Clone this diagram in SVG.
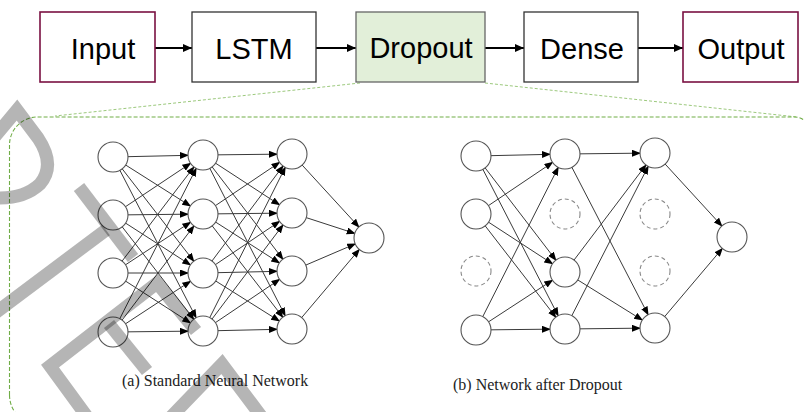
<svg xmlns="http://www.w3.org/2000/svg" width="804" height="412" viewBox="0 0 804 412">
<defs>
<marker id="ah" markerWidth="30" markerHeight="8" refX="23" refY="3.5" orient="auto" markerUnits="userSpaceOnUse">
<path d="M0,0 L9,3.5 L0,7 z" fill="#000"/>
</marker>
<marker id="tah" markerWidth="10" markerHeight="10" refX="9" refY="4" orient="auto" markerUnits="userSpaceOnUse">
<path d="M0,0 L9,4 L0,8 z" fill="#000"/>
</marker>
<style>
.box{stroke-width:1.3}
.io{fill:#fff;stroke:#7a1142;stroke-width:1.6}
.pl{fill:#fff;stroke:#333}
.dr{fill:#e2efd9;stroke:#666}
.lbl{font-family:"Liberation Sans",Arial,sans-serif;font-size:29px;fill:#000;text-anchor:middle}
.ta{stroke:#000;stroke-width:1.8;marker-end:url(#tah)}
.c line{stroke:#3a3a3a;stroke-width:1;marker-end:url(#ah)}
.n{fill:#fff;stroke:#555;stroke-width:1.1}
.nd{fill:#fff;stroke:#888;stroke-width:1.1;stroke-dasharray:4 3}
.cap{font-family:"Liberation Serif","Times New Roman",serif;font-size:16px;fill:#222}
</style>
</defs>
<rect width="804" height="412" fill="#fff"/>

<!-- zoom frame -->
<g id="zoom-frame" fill="none">
<path d="M360,83 L55,116" stroke="#9cc97d" stroke-width="1" stroke-dasharray="3 2"/>
<path d="M485,83 L797,117" stroke="#9cc97d" stroke-width="1" stroke-dasharray="3 2"/>
<path d="M9.5,395 V145 A28,28 0 0 1 37.5,117 H795 A14,14 0 0 1 809,131 V430 M9.5,395 A30,30 0 0 0 39.5,425" stroke="#70ad47" stroke-width="1.1" stroke-dasharray="4 2"/>
</g>

<!-- top pipeline connectors -->
<g id="pipeline-connectors">
<line class="ta" x1="155" y1="48" x2="192" y2="48"/>
<line class="ta" x1="316" y1="48" x2="356" y2="48"/>
<line class="ta" x1="485" y1="48" x2="524" y2="48"/>
<line class="ta" x1="638" y1="48" x2="683" y2="48"/>
</g>

<g id="input"><rect class="io" x="40" y="12" width="115" height="70"/><text class="lbl" x="103" y="59">Input</text></g>
<g id="lstm"><rect class="pl box" x="192" y="12" width="124" height="70"/><text class="lbl" x="254" y="59">LSTM</text></g>
<g id="dropout"><rect class="dr box" x="356" y="12" width="129" height="70"/><text class="lbl" x="421" y="58">Dropout</text></g>
<g id="dense"><rect class="pl box" x="524" y="12" width="114" height="70"/><text class="lbl" x="582" y="59">Dense</text></g>
<g id="output"><rect class="io" x="683" y="12" width="115" height="70"/><text class="lbl" x="741" y="59">Output</text></g>

<!-- standard network connectors -->
<g id="std-connectors" class="c">
<line x1="113" y1="157" x2="203" y2="155"/><line x1="113" y1="157" x2="203" y2="214"/><line x1="113" y1="157" x2="203" y2="273"/><line x1="113" y1="157" x2="203" y2="331"/>
<line x1="113" y1="215" x2="203" y2="155"/><line x1="113" y1="215" x2="203" y2="214"/><line x1="113" y1="215" x2="203" y2="273"/><line x1="113" y1="215" x2="203" y2="331"/>
<line x1="113" y1="273" x2="203" y2="155"/><line x1="113" y1="273" x2="203" y2="214"/><line x1="113" y1="273" x2="203" y2="273"/><line x1="113" y1="273" x2="203" y2="331"/>
<line x1="113" y1="332" x2="203" y2="155"/><line x1="113" y1="332" x2="203" y2="214"/><line x1="113" y1="332" x2="203" y2="273"/><line x1="113" y1="332" x2="203" y2="331"/>
<line x1="203" y1="155" x2="292" y2="154"/><line x1="203" y1="155" x2="292" y2="213"/><line x1="203" y1="155" x2="292" y2="271"/><line x1="203" y1="155" x2="292" y2="329"/>
<line x1="203" y1="214" x2="292" y2="154"/><line x1="203" y1="214" x2="292" y2="213"/><line x1="203" y1="214" x2="292" y2="271"/><line x1="203" y1="214" x2="292" y2="329"/>
<line x1="203" y1="273" x2="292" y2="154"/><line x1="203" y1="273" x2="292" y2="213"/><line x1="203" y1="273" x2="292" y2="271"/><line x1="203" y1="273" x2="292" y2="329"/>
<line x1="203" y1="331" x2="292" y2="154"/><line x1="203" y1="331" x2="292" y2="213"/><line x1="203" y1="331" x2="292" y2="271"/><line x1="203" y1="331" x2="292" y2="329"/>
<line x1="292" y1="154" x2="369" y2="238"/><line x1="292" y1="213" x2="369" y2="238"/><line x1="292" y1="271" x2="369" y2="238"/><line x1="292" y1="329" x2="369" y2="238"/>
</g>

<!-- dropout network connectors -->
<g id="drop-connectors" class="c">
<line x1="476" y1="156" x2="565" y2="154"/><line x1="476" y1="156" x2="565" y2="272"/><line x1="476" y1="156" x2="565" y2="329"/>
<line x1="476" y1="214" x2="565" y2="154"/><line x1="476" y1="214" x2="565" y2="272"/><line x1="476" y1="214" x2="565" y2="329"/>
<line x1="476" y1="330" x2="565" y2="154"/><line x1="476" y1="330" x2="565" y2="272"/><line x1="476" y1="330" x2="565" y2="329"/>
<line x1="565" y1="154" x2="655" y2="153"/><line x1="565" y1="154" x2="655" y2="328"/>
<line x1="565" y1="272" x2="655" y2="153"/><line x1="565" y1="272" x2="655" y2="328"/>
<line x1="565" y1="329" x2="655" y2="153"/><line x1="565" y1="329" x2="655" y2="328"/>
<line x1="655" y1="153" x2="732" y2="237"/><line x1="655" y1="328" x2="732" y2="237"/>
</g>

<!-- standard network nodes -->
<g id="std-nodes">
<g id="a1"><circle class="n" cx="113" cy="157" r="15"/></g>
<g id="a2"><circle class="n" cx="113" cy="215" r="15"/></g>
<g id="a3"><circle class="n" cx="113" cy="273" r="15"/></g>
<g id="a4"><circle class="n" cx="113" cy="332" r="15"/></g>
<g id="b1"><circle class="n" cx="203" cy="155" r="15"/></g>
<g id="b2"><circle class="n" cx="203" cy="214" r="15"/></g>
<g id="b3"><circle class="n" cx="203" cy="273" r="15"/></g>
<g id="b4"><circle class="n" cx="203" cy="331" r="15"/></g>
<g id="c1"><circle class="n" cx="292" cy="154" r="15"/></g>
<g id="c2"><circle class="n" cx="292" cy="213" r="15"/></g>
<g id="c3"><circle class="n" cx="292" cy="271" r="15"/></g>
<g id="c4"><circle class="n" cx="292" cy="329" r="15"/></g>
<g id="o1"><circle class="n" cx="369" cy="238" r="15"/></g>
</g>

<!-- dropout network nodes -->
<g id="drop-nodes">
<g id="d1"><circle class="n" cx="476" cy="156" r="15"/></g>
<g id="d2"><circle class="n" cx="476" cy="214" r="15"/></g>
<g id="d3"><circle class="nd" cx="476" cy="271" r="15"/></g>
<g id="d4"><circle class="n" cx="476" cy="330" r="15"/></g>
<g id="e1"><circle class="n" cx="565" cy="154" r="15"/></g>
<g id="e2"><circle class="nd" cx="565" cy="214" r="15"/></g>
<g id="e3"><circle class="n" cx="565" cy="272" r="15"/></g>
<g id="e4"><circle class="n" cx="565" cy="329" r="15"/></g>
<g id="f1"><circle class="n" cx="655" cy="153" r="15"/></g>
<g id="f2"><circle class="nd" cx="655" cy="214" r="15"/></g>
<g id="f3"><circle class="nd" cx="655" cy="271" r="15"/></g>
<g id="f4"><circle class="n" cx="655" cy="328" r="15"/></g>
<g id="p1"><circle class="n" cx="732" cy="237" r="15"/></g>
</g>

<g id="captions">
<text class="cap" x="122" y="386">(a) Standard Neural Network</text>
<text class="cap" x="453" y="390">(b) Network after Dropout</text>
</g>

<!-- watermark strokes -->
<g id="watermark" fill="none" stroke="#000" stroke-opacity="0.29" stroke-width="13">
<path d="M-8,140 L17,110 L38,138 Q56,165 40,184 Q25,198 0,198"/>
<path d="M79,187 L133,258"/>
<path d="M-5,313 L106,230"/>
<path d="M88,418 L50,366 L157,283 L196,331"/>
<path d="M109,324 L147,371"/>
<path d="M168,420 L222,364 L264,420"/>
</g>
</svg>
